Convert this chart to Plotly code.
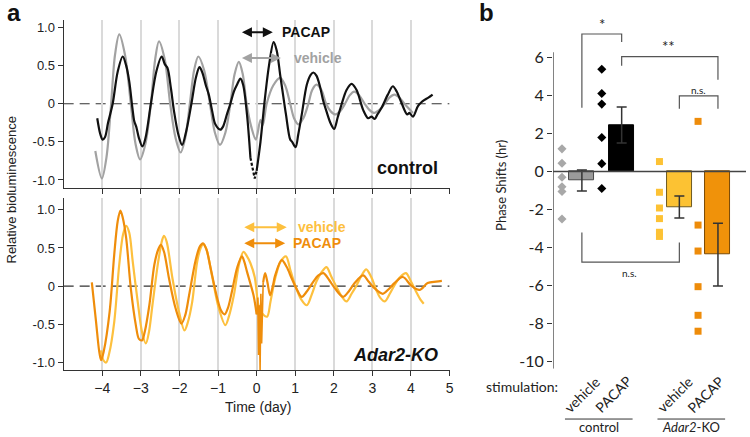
import plotly.graph_objects as go

# ---------------- data: panel a (control) ----------------
ctrl_veh_t = [-4.18, -4.01, -3.89, -3.77, -3.67, -3.56, -3.41, -3.26, -3.14, -3.02, -2.88, -2.74,
              -2.63, -2.53, -2.38, -2.24, -2.1, -1.97, -1.85, -1.73, -1.62, -1.51, -1.36, -1.21,
              -1.08, -0.95, -0.81, -0.68, -0.57, -0.46, -0.36, -0.26, -0.14, -0.02, 0.1, 0.16,
              0.26, 0.43, 0.61, 0.74, 0.87, 0.97, 1.08, 1.21, 1.34, 1.44, 1.55, 1.68, 1.8, 1.92,
              2.04, 2.16, 2.29, 2.41, 2.53, 2.66, 2.8, 2.92, 3.04, 3.18, 3.32, 3.44, 3.57, 3.7,
              3.83, 4.05]
ctrl_veh_v = [-0.62, -0.98, -0.7, 0.0, 0.64, 0.91, 0.64, 0.0, -0.52, -0.73, -0.52, 0.0,
              0.58, 0.82, 0.58, 0.0, -0.45, -0.64, -0.45, 0.0, 0.44, 0.62, 0.44, 0.0,
              -0.38, -0.54, -0.38, 0.0, 0.39, 0.55, 0.39, 0.0, -0.3, -0.47, -0.21, -0.28,
              0.0, 0.24, 0.34, 0.24, 0.0, -0.19, -0.27, -0.19, 0.0, 0.18, 0.25, 0.18, 0.0, -0.1,
              -0.14, -0.1, 0.0, 0.11, 0.16, 0.11, 0.0, -0.08, -0.12, -0.08, 0.0, 0.08, 0.12, 0.08,
              0.0, -0.12]

ctrl_pacap_t1 = [-4.13, -4.05, -3.99, -3.93, -3.85, -3.73, -3.6, -3.47, -3.38, -3.3, -3.22, -3.17,
                 -3.12, -3.05, -2.96, -2.88, -2.74, -2.6, -2.46, -2.38, -2.31, -2.22, -2.14, -2.03,
                 -1.93, -1.82, -1.69, -1.57, -1.48, -1.4, -1.32, -1.24, -1.15, -1.07, -0.94, -0.87,
                 -0.77, -0.68, -0.59, -0.5, -0.42, -0.35, -0.25, -0.16]
ctrl_pacap_v1 = [-0.19, -0.4, -0.47, -0.44, -0.25, 0.0, 0.42, 0.62, 0.5, 0.29, -0.05, -0.23,
                 -0.3, -0.45, -0.56, -0.45, 0.0, 0.42, 0.62, 0.52, 0.47, 0.2, -0.1, -0.4,
                 -0.54, -0.35, 0.0, 0.35, 0.48, 0.4, 0.25, 0.12, -0.1, -0.27, -0.34, -0.3,
                 -0.14, 0.0, 0.16, 0.26, 0.33, 0.25, -0.14, -0.71]
ctrl_pacap_gap_t = [-0.16, -0.05, 0.0]
ctrl_pacap_gap_v = [-0.71, -0.98, -0.88]
ctrl_pacap_t2 = [0.0, 0.1, 0.2, 0.32, 0.44, 0.52, 0.61, 0.69, 0.76, 0.87, 0.92, 1.01, 1.08, 1.17,
                 1.3, 1.4, 1.47, 1.55, 1.64, 1.72, 1.81, 1.92, 2.01, 2.1, 2.2, 2.33, 2.46, 2.59,
                 2.76, 2.89, 2.98, 3.06, 3.13, 3.23, 3.4, 3.53, 3.63, 3.74, 3.9, 3.96, 4.05,
                 4.18, 4.27, 4.35, 4.45, 4.56]
ctrl_pacap_v2 = [-0.88, -0.5, 0.0, 0.5, 0.81, 0.7, 0.38, 0.1, -0.14, -0.47, -0.5, -0.57, -0.4, -0.14,
                 0.25, 0.38, 0.41, 0.37, 0.23, 0.05, -0.1, -0.26, -0.33, -0.18, -0.01, 0.18, 0.26, 0.18,
                 -0.08, -0.19, -0.17, -0.2, -0.14, -0.06, 0.12, 0.23, 0.16, 0.03, -0.14, -0.12, -0.17,
                 -0.03, 0.02, 0.05, 0.08, 0.12]

# ---------------- data: panel a (Adar2-KO) ----------------
ko_veh_t = [-4.03, -3.97, -3.9, -3.82, -3.69, -3.56, -3.46, -3.38, -3.3, -3.21, -3.08, -2.97, -2.87,
            -2.79, -2.7, -2.55, -2.45, -2.4, -2.33, -2.18, -2.01, -1.87, -1.78, -1.67, -1.54, -1.45,
            -1.38, -1.3, -1.15, -0.98, -0.81, -0.72, -0.59, -0.45, -0.34, -0.26, -0.16, -0.05, 0.05,
            0.15, 0.27, 0.36, 0.48, 0.62, 0.76, 0.88, 1.0, 1.15, 1.3, 1.42, 1.55, 1.68, 1.81, 1.94,
            2.07, 2.2, 2.33, 2.46, 2.59, 2.72, 2.84, 2.97, 3.1, 3.2, 3.32, 3.45, 3.57, 3.72, 3.87,
            4.0, 4.13, 4.25, 4.33]
ko_veh_v = [-0.84, -0.97, -1.0, -0.88, -0.47, 0.28, 0.68, 0.79, 0.7, 0.32, -0.21, -0.6, -0.75,
            -0.6, -0.25, 0.32, 0.6, 0.66, 0.58, 0.1, -0.34, -0.58, -0.47, -0.21, 0.32, 0.5,
            0.55, 0.48, 0.12, -0.29, -0.51, -0.4, -0.12, 0.3, 0.45, 0.4, 0.3, 0.12, -0.25,
            -0.36, -0.4, -0.2, 0.1, 0.32, 0.39, 0.2, 0.01, -0.17, -0.25, -0.12, 0.06, 0.18, 0.25, 0.12,
            -0.01, -0.13, -0.2, -0.1, 0.01, 0.14, 0.22, 0.12, -0.05, -0.15, -0.2, -0.1, 0.01, 0.12, 0.17,
            0.06, -0.07, -0.18, -0.23]

ko_pacap_t1 = [-4.27, -4.16, -4.08, -4.03, -3.96, -3.81, -3.69, -3.6, -3.53, -3.47, -3.38, -3.26,
               -3.13, -3.05, -2.97, -2.9, -2.78, -2.65, -2.55, -2.48, -2.4, -2.27, -2.1, -1.95,
               -1.85, -1.75, -1.58, -1.47, -1.39, -1.3, -1.19, -1.02, -0.92, -0.83, -0.74, -0.64,
               -0.5, -0.38, -0.32, -0.25, -0.08, 0.0]
ko_pacap_v1 = [0.05, -0.47, -0.85, -0.97, -0.85, -0.34, 0.41, 0.85, 0.99, 0.9, 0.63, -0.03,
               -0.51, -0.69, -0.71, -0.6, -0.25, 0.28, 0.48, 0.54, 0.45, 0.1, -0.29, -0.49,
               -0.38, -0.12, 0.34, 0.52, 0.56, 0.48, 0.23, -0.16, -0.32, -0.37, -0.28, -0.07,
               0.25, 0.39, 0.32, 0.19, -0.12, -0.37]
ko_pacap_spike_t = [0.0, 0.03, 0.05, 0.07, 0.09, 0.11, 0.13, 0.15, 0.17]
ko_pacap_spike_v = [-0.37, -0.15, -0.9, -0.25, -1.1, -0.1, -0.75, 0.0, 0.05]
ko_pacap_t2 = [0.17, 0.22, 0.28, 0.35, 0.42, 0.48, 0.65, 0.78, 0.91, 1.05, 1.17, 1.3, 1.47, 1.6,
               1.73, 1.88, 2.03, 2.24, 2.4, 2.54, 2.76, 2.9, 3.06, 3.27, 3.42, 3.57, 3.79, 4.0,
               4.22, 4.43, 4.65, 4.8]
ko_pacap_v2 = [0.05, 0.17, 0.05, -0.12, 0.0, 0.14, 0.34, 0.25, 0.1, -0.05, -0.14, -0.07, 0.06, 0.14,
               0.17, 0.08, -0.03, -0.14, -0.06, 0.04, 0.14, 0.06, -0.03, -0.1, -0.04, 0.04, 0.12, 0.01,
               -0.05, 0.04, 0.06, 0.07]

day_ticks = [-4, -3, -2, -1, 0, 1, 2, 3, 4, 5]
biolum_ticks = [-1.0, -0.5, 0.0, 0.5, 1.0]
biolum_labels = ["-1.0", "-0.5", "0", "0.5", "1.0"]

# ---------------- data: panel b ----------------
groups = ["control vehicle", "control PACAP", "Adar2-KO vehicle", "Adar2-KO PACAP"]
bar_pos = [1.0, 2.0, 3.45, 4.42]
bar_mean = [-0.47, 2.46, -1.87, -4.38]
bar_sem = [0.55, 0.95, 0.58, 1.65]
pts_ctrl_veh = [1.2, 0.44, -0.3, -0.8, -1.05, -2.5]
pts_ctrl_pacap = [5.4, 4.12, 3.56, 1.8, 0.42, -0.89]
pts_ko_veh = [0.53, -1.09, -1.92, -2.48, -3.2, -3.42]
pts_ko_pacap = [2.65, -2.82, -4.19, -6.07, -7.58, -8.42]
shift_ticks = [-10, -8, -6, -4, -2, 0, 2, 4, 6]
shift_labels = ["-10", "-8", "-6", "-4", "-2", "0", "2", "4", "6"]

GREY = "#a2a2a2"
BLACK = "#111111"
ORANGE = "#EF8D0B"
YELLOW = "#FDC03E"
FONT = "Liberation Sans"
FONTB = "Lato"

fig = go.Figure()

def line(x, y, color, xa, ya, shape="spline", dash="solid", width=2.2):
    fig.add_trace(go.Scatter(x=x, y=y, mode="lines", xaxis=xa, yaxis=ya,
                             line=dict(color=color, width=width, shape=shape, dash=dash,
                                       smoothing=0.9 if shape == "spline" else None),
                             showlegend=False, hoverinfo="skip", cliponaxis=False))

# top panel (control): xaxis2 / yaxis2
line(ctrl_veh_t, ctrl_veh_v, GREY, "x2", "y2")
line(ctrl_pacap_t1, ctrl_pacap_v1, BLACK, "x2", "y2")
line(ctrl_pacap_gap_t, ctrl_pacap_gap_v, BLACK, "x2", "y2", shape="linear", dash="3px,2px")
line(ctrl_pacap_t2, ctrl_pacap_v2, BLACK, "x2", "y2")

# bottom panel (Adar2-KO): xaxis / yaxis
line(ko_veh_t, ko_veh_v, YELLOW, "x", "y")
line(ko_pacap_t1, ko_pacap_v1, ORANGE, "x", "y")
line(ko_pacap_spike_t, ko_pacap_spike_v, ORANGE, "x", "y", shape="linear", width=1.6)
line(ko_pacap_t2, ko_pacap_v2, ORANGE, "x", "y")

# panel b bars
bar_fill = ["#9b9b9b", "#000000", "#FCC233", "#F0920A"]
bar_edge = ["#4a4a4a", "#000000", "#6e5a22", "#7a4a05"]
fig.add_trace(go.Bar(x=bar_pos, y=bar_mean, width=0.625, xaxis="x3", yaxis="y3",
                     marker=dict(color=bar_fill, line=dict(color=bar_edge, width=1)),
                     error_y=dict(type="data", array=bar_sem, visible=True, color="#333333",
                                  thickness=1.5, width=5),
                     showlegend=False, hoverinfo="skip"))

pt_sets = [pts_ctrl_veh, pts_ctrl_pacap, pts_ko_veh, pts_ko_pacap]
pt_syms = ["diamond", "diamond", "square", "square"]
pt_cols = ["#a8a8a8", "#000000", "#FDC234", "#EE8C0A"]
for pos, vals, sym, col in zip(bar_pos, pt_sets, pt_syms, pt_cols):
    fig.add_trace(go.Scatter(x=[pos - 0.5] * len(vals), y=vals, mode="markers",
                             xaxis="x3", yaxis="y3",
                             marker=dict(symbol=sym, size=7, color=col, line=dict(width=0)),
                             showlegend=False, hoverinfo="skip", cliponaxis=False))

# significance brackets
brackets = [
    ([bar_pos[0], bar_pos[0], bar_pos[1], bar_pos[1]], [3.37, 7.26, 7.26, 6.84]),
    ([bar_pos[1], bar_pos[1], bar_pos[3], bar_pos[3]], [5.59, 6.07, 6.07, 4.84]),
    ([bar_pos[2], bar_pos[2], bar_pos[3], bar_pos[3]], [3.32, 4.0, 4.0, 3.32]),
    ([bar_pos[0], bar_pos[0], bar_pos[2], bar_pos[2]], [-3.21, -4.77, -4.77, -3.74]),
]
for bx, by in brackets:
    fig.add_trace(go.Scatter(x=bx, y=by, mode="lines", xaxis="x3", yaxis="y3",
                             line=dict(color="#555555", width=1.2),
                             showlegend=False, hoverinfo="skip", cliponaxis=False))

# ---------------- layout ----------------
W, H = 750, 437
def px(x):
    return x / W
def py(y):
    return 1 - y / H

axis_common = dict(showline=True, linecolor="#333333", linewidth=1.2, ticks="outside",
                   ticklen=5, tickcolor="#333333", tickwidth=1.2, zeroline=False)

fig.update_layout(
    width=W, height=H, margin=dict(l=0, r=0, t=0, b=0),
    paper_bgcolor="white", plot_bgcolor="white",
    font=dict(family=FONT, size=13, color="#222222"),
    xaxis=dict(domain=[px(64), px(452)], range=[-5, 5], tickvals=day_ticks,
               showgrid=True, gridcolor="#dadada", gridwidth=1.5, anchor="y",
               tickfont=dict(size=14, color="#222222"), **axis_common),
    yaxis=dict(domain=[py(371), py(198)], range=[-1.1, 1.16], tickvals=biolum_ticks,
               ticktext=biolum_labels, showgrid=False, anchor="x",
               tickfont=dict(size=13, color="#222222"), **axis_common),
    xaxis2=dict(domain=[px(64), px(452)], range=[-5, 5], tickvals=day_ticks,
                showticklabels=False, showgrid=True, gridcolor="#dadada", gridwidth=1.5,
                anchor="y2", **axis_common),
    yaxis2=dict(domain=[py(188), py(20)], range=[-1.1, 1.1], tickvals=biolum_ticks,
                ticktext=biolum_labels, showgrid=False, anchor="x2",
                tickfont=dict(size=13, color="#222222"), **axis_common),
    xaxis3=dict(domain=[px(556), 1.0], range=[0.275, 5.125], visible=False, anchor="y3"),
    yaxis3=dict(domain=[py(369.6), py(14.3)], range=[-10.4, 8.3], tickvals=shift_ticks,
                ticktext=shift_labels, showline=False, ticks="outside", ticklen=5,
                tickcolor="#333333", tickwidth=1.2, showgrid=False, zeroline=False,
                anchor="x3", tickfont=dict(family=FONTB, size=16, color="#222222")),
    bargap=0,
)

shapes = [
    dict(type="line", xref="x2", yref="y2", x0=-5, x1=5, y0=0, y1=0, layer="below",
         line=dict(color="#333333", width=1.2, dash="10px,6px")),
    dict(type="line", xref="x", yref="y", x0=-5, x1=5, y0=0, y1=0, layer="below",
         line=dict(color="#333333", width=1.2, dash="10px,6px")),
    dict(type="line", xref="x3", yref="y3", x0=0.275, x1=0.275, y0=-10.4, y1=6.3,
         line=dict(color="#333333", width=1.2)),
    dict(type="line", xref="x3", yref="y3", x0=0.275, x1=5.125, y0=0, y1=0,
         line=dict(color="#444444", width=1.5)),
    dict(type="line", xref="paper", yref="paper", x0=px(568), x1=px(636), y0=py(420), y1=py(420),
         line=dict(color="#333333", width=1)),
    dict(type="line", xref="paper", yref="paper", x0=px(661), x1=px(729), y0=py(420), y1=py(420),
         line=dict(color="#333333", width=1)),
]
fig.update_layout(shapes=shapes)

ann = []
def text(x, y, t, size=13, color="#222222", bold=False, xanchor="center", yanchor="middle",
         xref="paper", yref="paper", angle=0, family=FONT):
    ann.append(dict(x=x, y=y, xref=xref, yref=yref, text=t, showarrow=False,
                    xanchor=xanchor, yanchor=yanchor, textangle=angle,
                    font=dict(family=family, size=size, color=color,
                              weight="bold" if bold else "normal")))

def darrow(x0, x1, y, color, xr, yr):
    ann.append(dict(x=x1, y=y, ax=x0, ay=y, xref=xr, yref=yr, axref=xr, ayref=yr,
                    text="", showarrow=True, arrowside="end+start", arrowhead=2,
                    arrowsize=1.0, arrowwidth=2, arrowcolor=color, standoff=0,
                    startstandoff=0))

# panel labels
text(px(14), py(13), "a", size=24, color="#111111", bold=True)
text(px(489), py(13), "b", size=24, color="#111111", bold=True)

# panel a texts
text(px(12), py(190), "Relative bioluminescence", size=13, angle=-90)
text(px(259), py(408), "Time (day)", size=14)
darrow(-0.42, 0.42, 0.94, "#111111", "x2", "y2")
text(0.6, 0.94, "PACAP", size=14, color="#111111", bold=True, xanchor="left", xref="x2", yref="y2")
darrow(-0.42, 0.63, 0.6, GREY, "x2", "y2")
text(0.92, 0.6, "vehicle", size=14, color=GREY, bold=True, xanchor="left", xref="x2", yref="y2")
text(4.75, -0.84, "control", size=18, color="#111111", bold=True, xanchor="right",
     xref="x2", yref="y2")
darrow(-0.36, 0.78, 0.77, YELLOW, "x", "y")
text(1.02, 0.77, "vehicle", size=14, color=YELLOW, bold=True, xanchor="left", xref="x", yref="y")
darrow(-0.36, 0.74, 0.56, ORANGE, "x", "y")
text(0.9, 0.56, "PACAP", size=14, color=ORANGE, bold=True, xanchor="left", xref="x", yref="y")
text(4.75, -0.9, "<i>Adar2</i><i>-KO</i>", size=18, color="#111111", bold=True,
     xanchor="right", xref="x", yref="y")

# panel b texts
text(px(503), py(186), "Phase Shifts (hr)", size=13, angle=-90, family=FONTB)
text(1.5, 7.8, "*", size=15, xref="x3", yref="y3", family=FONTB)
text(3.18, 6.62, "**", size=15, xref="x3", yref="y3", family=FONTB)
text(3.93, 4.3, "n.s.", size=10, xref="x3", yref="y3", family=FONTB)
text(2.2, -5.35, "n.s.", size=10, xref="x3", yref="y3", family=FONTB)
text(px(563), py(387), "stimulation:", size=14, xanchor="right", family=FONTB)
text(px(585), py(395), "vehicle", size=14, angle=-45, family=FONTB)
text(px(616), py(395), "PACAP", size=14, angle=-45, family=FONTB)
text(px(678), py(395), "vehicle", size=14, angle=-45, family=FONTB)
text(px(709), py(395), "PACAP", size=14, angle=-45, family=FONTB)
text(px(602), py(428), "control", size=13, family=FONTB)
text(px(695), py(428), "<i>Adar2</i>-KO", size=13, family=FONTB)

fig.update_layout(annotations=ann)
fig.write_html("out.html", config={"displayModeBar": False},
               post_script="document.body.style.margin='0px';document.body.style.padding='0px';")
